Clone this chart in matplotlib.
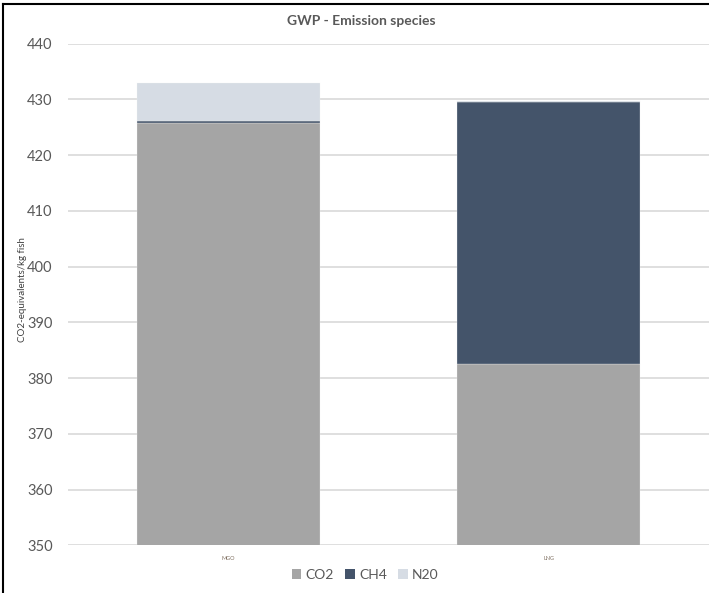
import matplotlib
matplotlib.use("Agg")
import matplotlib.pyplot as plt
from matplotlib.lines import Line2D
from matplotlib.patches import Patch
import numpy as np

plt.rcParams['font.family'] = ['Lato', 'DejaVu Sans']

categories = ["MGO", "LNG"]
series_names = ["CO2", "CH4", "N20"]
co2 = [425.7, 382.6]
ch4 = [0.35, 47.0]
n2o = [6.95, 0.1]
colors = ["#a5a5a5", "#44546a", "#d6dce4"]
y_ticks = [350, 360, 370, 380, 390, 400, 410, 420, 430, 440]

fig = plt.figure(figsize=(7.09, 5.93), dpi=100)
ax = fig.add_axes([0.0959, 0.0804, 0.9041, 0.8462])

x = np.arange(len(categories))
width = 0.57
base = np.zeros(len(categories))
for name, vals, c in zip(series_names, [co2, ch4, n2o], colors):
    vals = np.array(vals)
    ax.bar(x, vals, width, bottom=base, color=c, edgecolor="#f2f2f2",
           linewidth=0.2, label=name, zorder=3)
    base = base + vals

ax.set_ylim(350, 440)
ax.set_xlim(-0.5, 1.5)
ax.set_yticks(y_ticks)
ax.set_yticklabels([str(t) for t in y_ticks], fontsize=10.5, color="#595959")
ax.tick_params(axis="y", length=0, pad=11)
ax.set_xticks(x)
ax.set_xticklabels(categories, fontsize=4, color="#7f6f60")
ax.tick_params(axis="x", length=0, pad=8)
ax.grid(axis="y", color="#d9d9d9", linewidth=1.2, zorder=0)
for s in ax.spines.values():
    s.set_visible(False)

ax.set_ylabel("CO2-equivalents/kg fish", fontsize=7, color="#404040")
ax.yaxis.set_label_coords(-0.064, 0.51)

fig.text(0.51, 0.965, "GWP - Emission species", ha="center", va="center",
         fontsize=10, fontweight="bold", color="#595959")

handles = [Patch(facecolor=c, edgecolor="none") for c in colors]
fig.legend(handles, series_names, loc="center", bbox_to_anchor=(0.515, 0.031),
           ncol=3, frameon=False, fontsize=10, handlelength=0.7, handleheight=0.7,
           handletextpad=0.3, columnspacing=0.8, labelcolor="#595959")

# frame lines along the top and left edges
fig.add_artist(Line2D([0.0045, 1.0], [0.9925, 0.9925], color="black", linewidth=1.5,
                      transform=fig.transFigure))
fig.add_artist(Line2D([0.0045, 0.0045], [0.0, 0.9925], color="black", linewidth=1.5,
                      transform=fig.transFigure))

fig.savefig("out.png", dpi=100)
